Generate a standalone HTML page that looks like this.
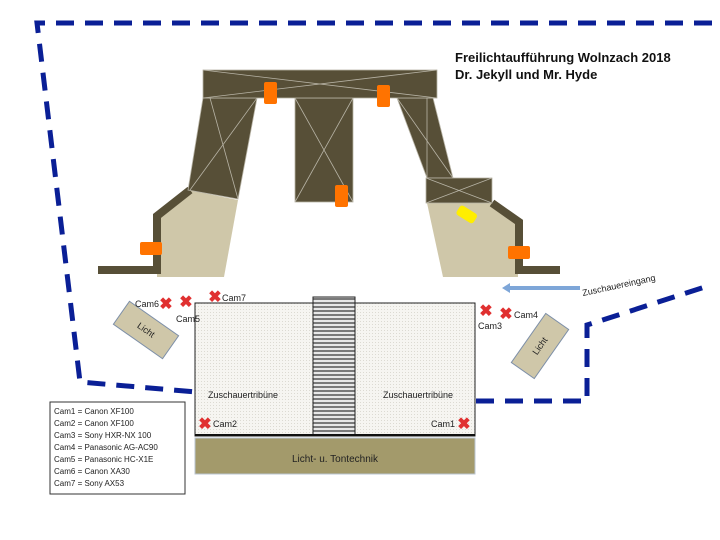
<!DOCTYPE html>
<html><head><meta charset="utf-8"><style>
body{margin:0;background:#fff}
svg{display:block}
text{font-family:"Liberation Sans",sans-serif}
</style></head><body>
<svg width="720" height="540" viewBox="0 0 720 540" xmlns="http://www.w3.org/2000/svg">
<defs>
<pattern id="dots" width="3" height="3" patternUnits="userSpaceOnUse"><rect width="3" height="3" fill="#f6f5f1"/><rect width="1" height="1" fill="#dcdad2"/></pattern>
<pattern id="stripes" width="4" height="4" patternUnits="userSpaceOnUse"><rect width="4" height="4" fill="#e8e8e8"/><rect y="2" width="4" height="2" fill="#7a7a7a"/></pattern>
</defs>
<g fill="none" stroke="#0a1f96" stroke-width="5" stroke-dasharray="18,11">
<polyline points="712,23 37,23 80,382 196,392"/>
<polyline points="476,401 587,401 587,325 708,286"/>
</g>
<text x="455" y="62" font-size="13" font-weight="bold" fill="#111">Freilichtaufführung Wolnzach 2018</text>
<text x="455" y="79" font-size="13" font-weight="bold" fill="#111">Dr. Jekyll und Mr. Hyde</text>
<polygon points="157,218 188,190 238,200 224,277 157,277" fill="#cfc7a9"/>
<polygon points="427,203 492,203 518,222 518,277 443,277" fill="#cfc7a9"/>
<polyline points="98,270 157,270 157,216 190,190" fill="none" stroke="#574f37" stroke-width="8"/>
<polyline points="492,203 519,222 519,270 560,270" fill="none" stroke="#574f37" stroke-width="8"/>
<g fill="#574f37" stroke="#b8b4a6" stroke-width="0.8">
<polygon points="203,98 257,98 238,199 188,190"/>
<line x1="210" y1="98" x2="238" y2="199"/><line x1="257" y1="98" x2="190" y2="190"/>
<polygon points="397,98 433,98 453,178 427,178"/>
<line x1="397" y1="98" x2="453" y2="178"/><line x1="427" y1="98" x2="427" y2="178"/>
<rect x="295" y="98" width="58" height="104"/>
<line x1="295" y1="98" x2="353" y2="202"/><line x1="353" y1="98" x2="295" y2="202"/>
<rect x="203" y="70" width="234" height="28"/>
<line x1="203" y1="70" x2="437" y2="98"/><line x1="437" y1="70" x2="203" y2="98"/>
<rect x="426" y="178" width="66" height="25"/>
<line x1="426" y1="178" x2="492" y2="203"/><line x1="492" y1="178" x2="426" y2="203"/>
</g>
<g fill="#ff7300">
<rect x="264" y="82" width="13" height="22" rx="2"/>
<rect x="377" y="85" width="13" height="22" rx="2"/>
<rect x="335" y="185" width="13" height="22" rx="2"/>
<rect x="140" y="242" width="22" height="13" rx="2"/>
<rect x="508" y="246" width="22" height="13" rx="2"/>
</g>
<rect x="457" y="209" width="20" height="11" rx="3" fill="#ffee00" transform="rotate(32 467 214)"/>
<line x1="580" y1="288" x2="508" y2="288" stroke="#7ea6d8" stroke-width="4"/>
<polygon points="502,288 510,283 510,293" fill="#7ea6d8"/>
<text x="583" y="296" font-size="9" fill="#222" transform="rotate(-12 583 296)">Zuschauereingang</text>
<rect x="195" y="303" width="280" height="133" fill="url(#dots)" stroke="#222" stroke-width="1"/>
<rect x="313" y="297" width="42" height="139" fill="url(#stripes)" stroke="#222" stroke-width="1"/>
<line x1="195" y1="435" x2="475" y2="435" stroke="#111" stroke-width="2"/>
<rect x="195" y="438" width="280" height="36" fill="#a39a6b" stroke="#b9c4d2" stroke-width="1"/>
<text x="335" y="462" font-size="10" text-anchor="middle" fill="#222">Licht- u. Tontechnik</text>
<text x="208" y="398" font-size="9" fill="#222">Zuschauertribüne</text>
<text x="383" y="398" font-size="9" fill="#222">Zuschauertribüne</text>
<g transform="rotate(35 146 330)"><rect x="116" y="316" width="60" height="28" fill="#cfc7a9" stroke="#7d8fa8"/><text x="146" y="333" font-size="9" text-anchor="middle" fill="#222">Licht</text></g>
<g transform="rotate(-55 540 346)"><rect x="510" y="332" width="60" height="28" fill="#cfc7a9" stroke="#7d8fa8"/><text x="540" y="349" font-size="9" text-anchor="middle" fill="#222">Licht</text></g>
<g fill="#e03030" font-size="16" font-weight="bold" text-anchor="middle">
<text x="166" y="309">✖</text><text x="186" y="307">✖</text><text x="215" y="302">✖</text>
<text x="486" y="316">✖</text><text x="506" y="319">✖</text>
<text x="205" y="429">✖</text><text x="464" y="429">✖</text>
</g>
<g font-size="9" fill="#222">
<text x="135" y="307">Cam6</text><text x="176" y="322">Cam5</text><text x="222" y="301">Cam7</text>
<text x="478" y="329">Cam3</text><text x="514" y="318">Cam4</text>
<text x="213" y="427">Cam2</text><text x="431" y="427">Cam1</text>
</g>
<rect x="50" y="402" width="135" height="92" fill="#fff" stroke="#333" stroke-width="1"/>
<g font-size="8" fill="#222">
<text x="54" y="414">Cam1 = Canon XF100</text>
<text x="54" y="426">Cam2 = Canon XF100</text>
<text x="54" y="438">Cam3 = Sony HXR-NX 100</text>
<text x="54" y="450">Cam4 = Panasonic AG-AC90</text>
<text x="54" y="462">Cam5 = Panasonic HC-X1E</text>
<text x="54" y="474">Cam6 = Canon XA30</text>
<text x="54" y="486">Cam7 = Sony AX53</text>
</g>
</svg>
</body></html>
